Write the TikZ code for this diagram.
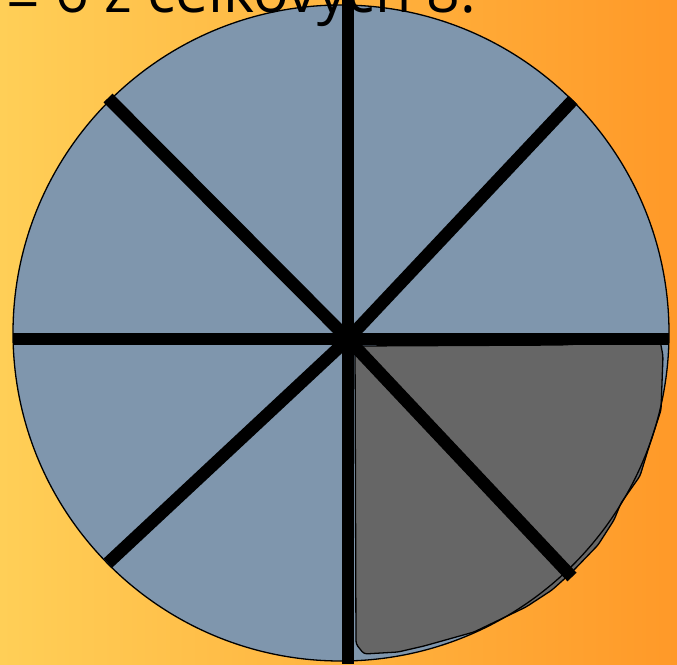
\documentclass[tikz,border=0pt]{standalone}
\usepackage{fontspec}
\setmainfont{Open Sans}
\usepackage{xcolor}
\usepackage{tikz}
\usetikzlibrary{arrows.meta,shapes,calc}
\definecolor{bgleft}{RGB}{255,207,87}
\definecolor{bgright}{RGB}{255,153,40}
\definecolor{slate}{RGB}{127,150,173}
\definecolor{piece}{RGB}{102,102,102}
\tikzset{spoke/.style={line width=12.5pt,line cap=butt,black}}

\begin{document}
\begin{tikzpicture}[x=1pt,y=-1pt]
\useasboundingbox(0,0)rectangle(677,664);
\shade[left color=bgleft,right color=bgright](0,0)rectangle(677,664);
\fill[slate](341,333)circle[radius=328];
\coordinate(mid)at(348,339);
\draw[fill=piece,line width=1.3pt,rounded corners=3pt](355,346)--(560,345)--(660,340)--(663,356)--(661,410)--(648,450)--(640,476)--(621,503)
  --(614,520)--(598,545)--(572,572)--(552,590)--(526,607)--(474,632)--(424,646)--(398,652)--(364,654)--(356,644)--cycle;
\draw[spoke](348,0)--(348,664);
\draw[spoke](13,339)--(669,339);
\draw[spoke](108,98)--(mid)--(572,577);
\draw[spoke](573,100)--(mid)--(108,563);
\draw[line width=1.3pt](341,333)circle[radius=328];
\node[anchor=base west,inner sep=0pt,font=\fontsize{59}{60}\selectfont](caption)at(6,12){\raisebox{-7pt}{=} 6 z celkových 8.};
\end{tikzpicture}
\end{document}
